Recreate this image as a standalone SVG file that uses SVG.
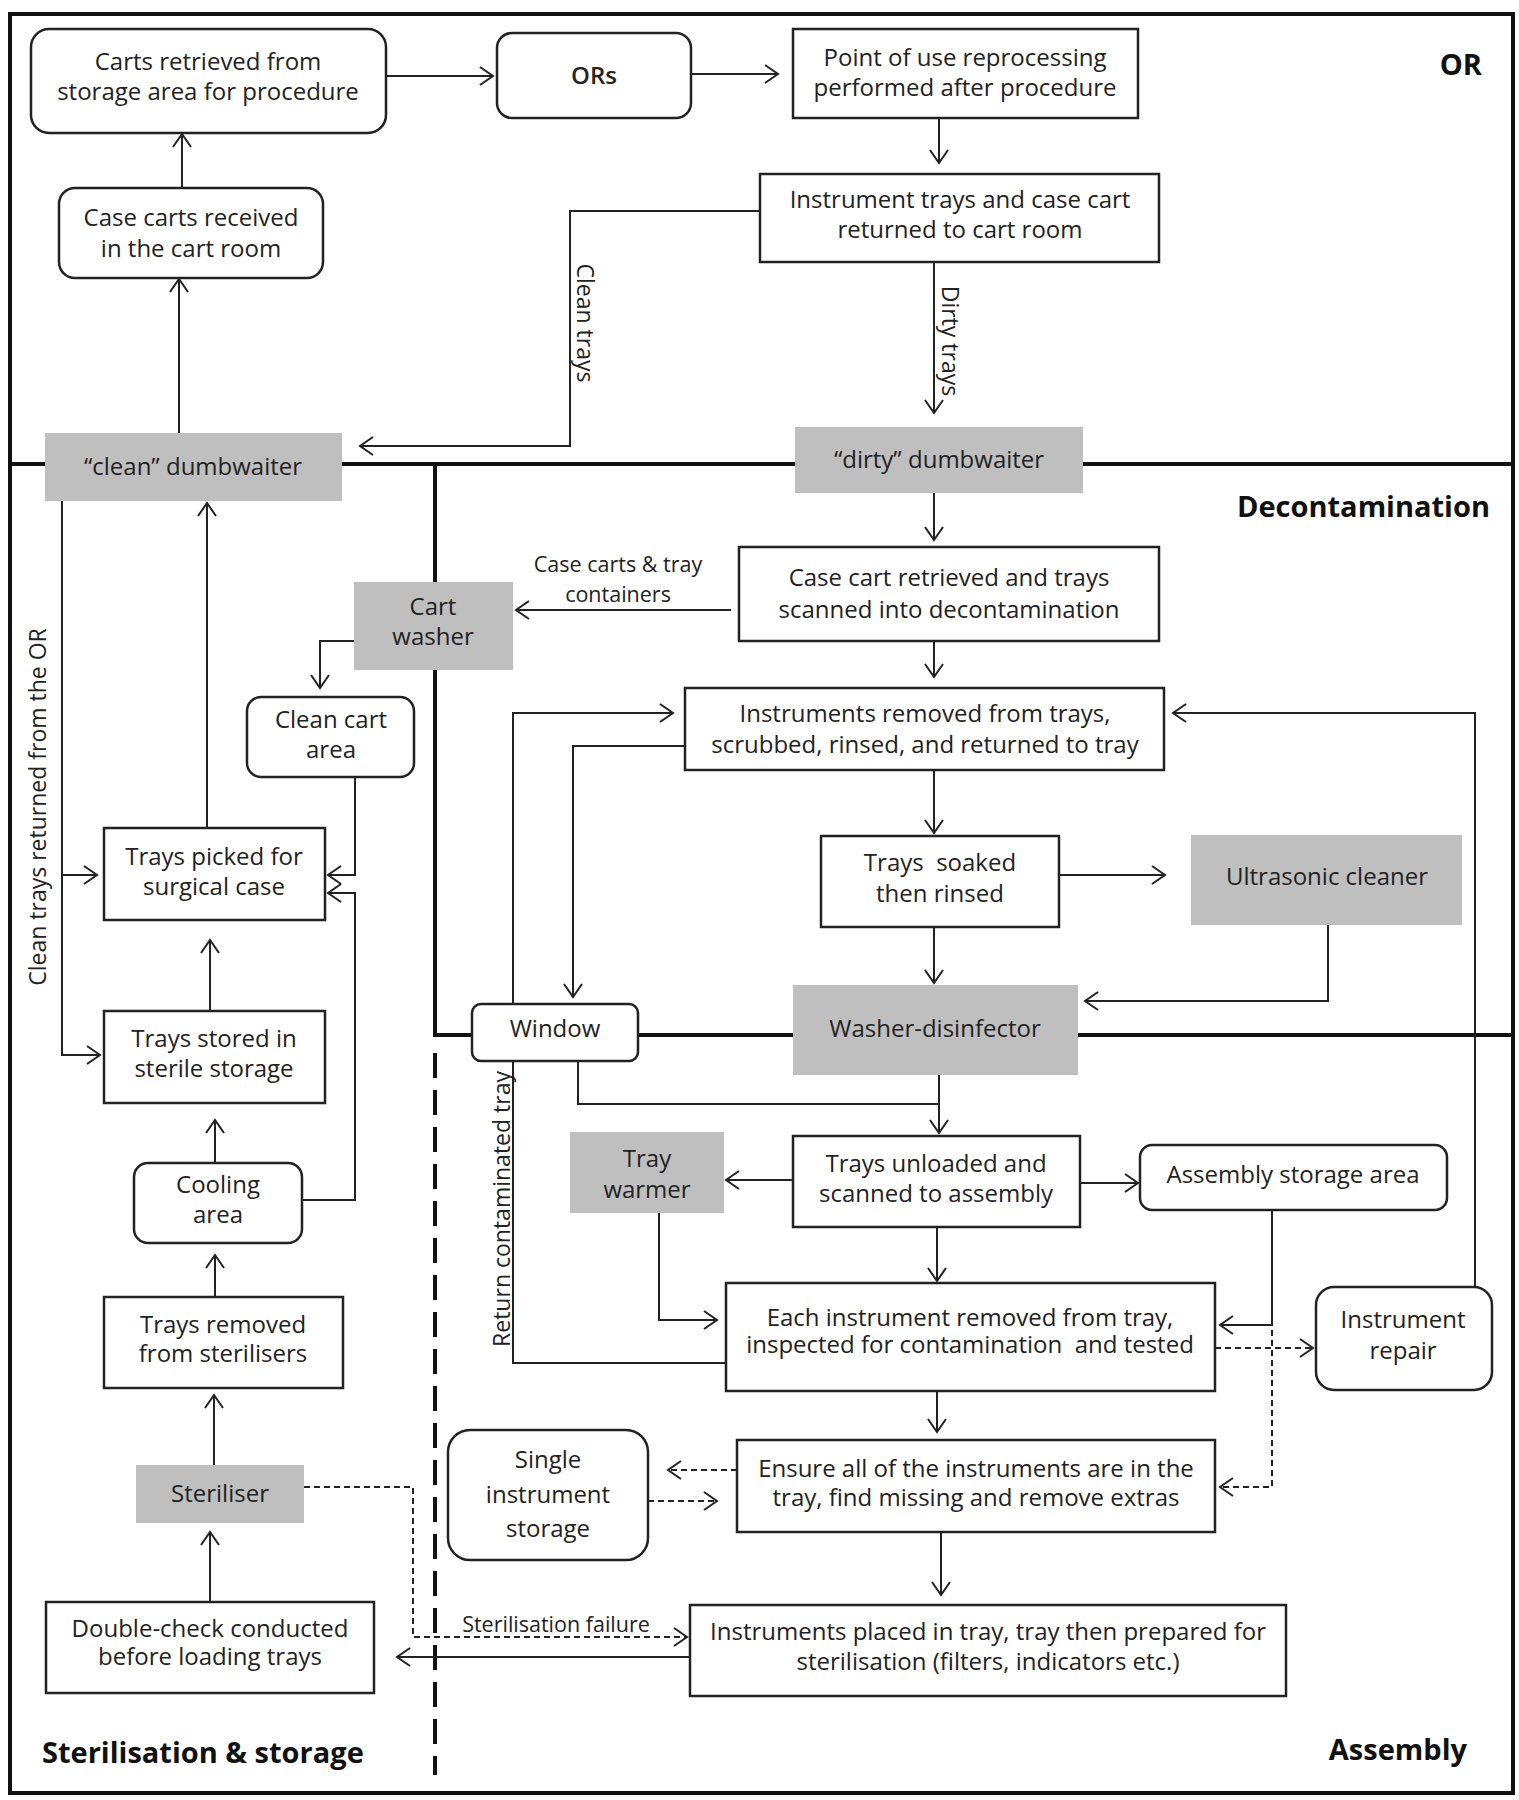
<svg xmlns="http://www.w3.org/2000/svg" width="1519" height="1800" viewBox="0 0 1519 1800">
<style>
.bx{fill:#fff;stroke:#222;stroke-width:2.5}
.gr{fill:#bfbfbf;stroke:none}
.t{font-family:"Open Sans","Noto Sans","DejaVu Sans",sans-serif;font-size:24px;fill:#222;text-anchor:middle}
.s{font-family:"Open Sans","Noto Sans","DejaVu Sans",sans-serif;font-size:21.5px;fill:#222;text-anchor:middle}
.v{font-family:"Open Sans","Noto Sans","DejaVu Sans",sans-serif;font-size:23px;fill:#222;text-anchor:middle}
.h{font-family:"Open Sans","Noto Sans","DejaVu Sans",sans-serif;font-size:29px;font-weight:bold;fill:#111}
.c{fill:none;stroke:#222;stroke-width:2}
.d{stroke-dasharray:6 4}
.r{fill:none;stroke:#111;stroke-width:4}
</style>
<defs>
<marker id="a" viewBox="0 0 16 20" refX="14" refY="10" markerWidth="16" markerHeight="20" markerUnits="userSpaceOnUse" orient="auto"><path d="M1,1 L14,10 L1,19" fill="none" stroke="#222" stroke-width="2"/></marker>
</defs>
<rect width="1519" height="1800" fill="#fff"/>
<g id="regions">
<rect class="r" x="10" y="14" width="1503" height="1779"/>
<path class="r" d="M10,464 H1513"/>
<path class="r" d="M435,464 V1035 H1513"/>
<path class="r" d="M435,1053 V1775" stroke-dasharray="25 12"/>
<text class="h" x="1482" y="75" text-anchor="end">OR</text>
<text class="h" x="1490" y="517" text-anchor="end">Decontamination</text>
<text class="h" x="42" y="1763">Sterilisation &amp; storage</text>
<text class="h" x="1467" y="1760" text-anchor="end">Assembly</text>
</g>
<g id="connectors">
<path class="c" marker-end="url(#a)" d="M386,76 H493"/>
<path class="c" marker-end="url(#a)" d="M691,74 H778"/>
<path class="c" marker-end="url(#a)" d="M939,118 V163"/>
<path class="c" marker-end="url(#a)" d="M760,211 H570 V446 H360"/>
<text class="v" transform="translate(585,323) rotate(90)" y="8">Clean trays</text>
<path class="c" marker-end="url(#a)" d="M934,262 V413"/>
<text class="v" transform="translate(950,341) rotate(90)" y="8">Dirty trays</text>
<path class="c" marker-end="url(#a)" d="M179,433 V279"/>
<path class="c" marker-end="url(#a)" d="M182,188 V134"/>
<path class="c" marker-end="url(#a)" d="M934,493 V540"/>
<path class="c" marker-end="url(#a)" d="M731,610 H516"/>
<text class="s" x="618" y="572">Case carts &amp; tray</text>
<text class="s" x="618" y="602">containers</text>
<path class="c" marker-end="url(#a)" d="M934,641 V677"/>
<path class="c" marker-end="url(#a)" d="M685,746 H573 V997"/>
<path class="c" marker-end="url(#a)" d="M726,1363 H513 V713 H673"/>
<text class="v" transform="translate(502,1209) rotate(-90)" y="8">Return contaminated tray</text>
<path class="c" marker-end="url(#a)" d="M934,770 V833"/>
<path class="c" marker-end="url(#a)" d="M1059,875 H1165"/>
<path class="c" marker-end="url(#a)" d="M1328,925 V1001 H1085"/>
<path class="c" marker-end="url(#a)" d="M934,927 V983"/>
<path class="c" marker-end="url(#a)" d="M939,1075 V1133"/>
<path class="c" d="M578,1061 V1104 H939"/>
<path class="c" marker-end="url(#a)" d="M793,1180 H726"/>
<path class="c" marker-end="url(#a)" d="M659,1213 V1320 H717"/>
<path class="c" marker-end="url(#a)" d="M937,1227 V1281"/>
<path class="c" marker-end="url(#a)" d="M1080,1183 H1138"/>
<path class="c" marker-end="url(#a)" d="M1272,1210 V1325 H1220"/>
<path class="c d" marker-end="url(#a)" d="M1215,1348 H1313"/>
<path class="c d" marker-end="url(#a)" d="M1272,1330 V1487 H1220"/>
<path class="c" marker-end="url(#a)" d="M1475,1287 V713 H1173"/>
<path class="c" marker-end="url(#a)" d="M937,1391 V1432"/>
<path class="c d" marker-end="url(#a)" d="M737,1470 H668"/>
<path class="c d" marker-end="url(#a)" d="M648,1501 H717"/>
<path class="c" marker-end="url(#a)" d="M941,1532 V1595"/>
<path class="c" marker-end="url(#a)" d="M690,1657 H397"/>
<path class="c d" marker-end="url(#a)" d="M304,1487 H413 V1637 H687"/>
<text class="s" x="556" y="1632">Sterilisation failure</text>
<path class="c" marker-end="url(#a)" d="M210,1602 V1532"/>
<path class="c" marker-end="url(#a)" d="M214,1465 V1395"/>
<path class="c" marker-end="url(#a)" d="M215,1297 V1255"/>
<path class="c" marker-end="url(#a)" d="M215,1163 V1120"/>
<path class="c" marker-end="url(#a)" d="M210,1011 V940"/>
<path class="c" marker-end="url(#a)" d="M302,1200 H355 V893 H328"/>
<path class="c" marker-end="url(#a)" d="M355,777 V875 H328"/>
<path class="c" marker-end="url(#a)" d="M207,828 V503"/>
<path class="c" marker-end="url(#a)" d="M62,501 V1055 H100"/>
<path class="c" marker-end="url(#a)" d="M62,875 H97"/>
<text class="v" transform="translate(38,807) rotate(-90)" y="8">Clean trays returned from the OR</text>
<path class="c" marker-end="url(#a)" d="M354,641 H320 V688"/>
</g>
<g id="n-carts-retrieved"><rect class="bx" x="31" y="29" width="355" height="104" rx="18"/><text class="t" x="208" y="70">Carts retrieved from</text><text class="t" x="208" y="100">storage area for procedure</text></g>
<g id="n-ors"><rect class="bx" x="497" y="33" width="194" height="85" rx="15"/><text class="t" x="594" y="84" font-weight="600">ORs</text></g>
<g id="n-point-of-use"><rect class="bx" x="793" y="29" width="345" height="89"/><text class="t" x="965" y="66">Point of use reprocessing</text><text class="t" x="965" y="96">performed after procedure</text></g>
<g id="n-instrument-trays"><rect class="bx" x="760" y="174" width="399" height="88"/><text class="t" x="960" y="208">Instrument trays and case cart</text><text class="t" x="960" y="238">returned to cart room</text></g>
<g id="n-case-carts-received"><rect class="bx" x="59" y="188" width="264" height="90" rx="16"/><text class="t" x="191" y="226">Case carts received</text><text class="t" x="191" y="257">in the cart room</text></g>
<g id="n-clean-dumbwaiter"><rect class="gr" x="45" y="433" width="297" height="68"/><text class="t" x="193" y="475">“clean” dumbwaiter</text></g>
<g id="n-dirty-dumbwaiter"><rect class="gr" x="795" y="427" width="288" height="66"/><text class="t" x="939" y="468">“dirty” dumbwaiter</text></g>
<g id="n-case-cart-retrieved"><rect class="bx" x="739" y="547" width="420" height="94"/><text class="t" x="949" y="586">Case cart retrieved and trays</text><text class="t" x="949" y="618">scanned into decontamination</text></g>
<g id="n-cart-washer"><rect class="gr" x="354" y="582" width="159" height="88"/><text class="t" x="433" y="615">Cart</text><text class="t" x="433" y="645">washer</text></g>
<g id="n-clean-cart-area"><rect class="bx" x="247" y="697" width="167" height="80" rx="14"/><text class="t" x="331" y="728">Clean cart</text><text class="t" x="331" y="758">area</text></g>
<g id="n-instruments-removed"><rect class="bx" x="685" y="688" width="479" height="82"/><text class="t" x="925" y="722">Instruments removed from trays,</text><text class="t" x="925" y="753">scrubbed, rinsed, and returned to tray</text></g>
<g id="n-trays-soaked"><rect class="bx" x="821" y="836" width="238" height="91"/><text class="t" x="940" y="871" xml:space="preserve">Trays  soaked</text><text class="t" x="940" y="902">then rinsed</text></g>
<g id="n-ultrasonic"><rect class="gr" x="1191" y="835" width="271" height="90"/><text class="t" x="1327" y="885">Ultrasonic cleaner</text></g>
<g id="n-trays-picked"><rect class="bx" x="104" y="828" width="221" height="92"/><text class="t" x="214" y="865">Trays picked for</text><text class="t" x="214" y="895">surgical case</text></g>
<g id="n-window"><rect class="bx" x="472" y="1004" width="166" height="57" rx="9"/><text class="t" x="555" y="1037">Window</text></g>
<g id="n-washer-disinfector"><rect class="gr" x="793" y="985" width="285" height="90"/><text class="t" x="935" y="1037">Washer-disinfector</text></g>
<g id="n-trays-stored"><rect class="bx" x="104" y="1011" width="221" height="92"/><text class="t" x="214" y="1047">Trays stored in</text><text class="t" x="214" y="1077">sterile storage</text></g>
<g id="n-tray-warmer"><rect class="gr" x="570" y="1132" width="154" height="81"/><text class="t" x="647" y="1167">Tray</text><text class="t" x="647" y="1198">warmer</text></g>
<g id="n-trays-unloaded"><rect class="bx" x="793" y="1136" width="287" height="91"/><text class="t" x="936" y="1172">Trays unloaded and</text><text class="t" x="936" y="1202">scanned to assembly</text></g>
<g id="n-assembly-storage"><rect class="bx" x="1140" y="1145" width="307" height="65" rx="12"/><text class="t" x="1293" y="1183">Assembly storage area</text></g>
<g id="n-cooling"><rect class="bx" x="134" y="1163" width="168" height="80" rx="14"/><text class="t" x="218" y="1193">Cooling</text><text class="t" x="218" y="1223">area</text></g>
<g id="n-each-instrument"><rect class="bx" x="726" y="1283" width="489" height="108"/><text class="t" x="970" y="1326">Each instrument removed from tray,</text><text class="t" x="970" y="1353" xml:space="preserve">inspected for contamination  and tested</text></g>
<g id="n-instrument-repair"><rect class="bx" x="1316" y="1287" width="176" height="103" rx="18"/><text class="t" x="1403" y="1328">Instrument</text><text class="t" x="1403" y="1359">repair</text></g>
<g id="n-trays-removed"><rect class="bx" x="104" y="1297" width="239" height="91"/><text class="t" x="223" y="1333">Trays removed</text><text class="t" x="223" y="1362">from sterilisers</text></g>
<g id="n-single-instrument"><rect class="bx" x="448" y="1430" width="200" height="130" rx="22"/><text class="t" x="548" y="1468">Single</text><text class="t" x="548" y="1503">instrument</text><text class="t" x="548" y="1537">storage</text></g>
<g id="n-ensure"><rect class="bx" x="737" y="1440" width="478" height="92"/><text class="t" x="976" y="1477">Ensure all of the instruments are in the</text><text class="t" x="976" y="1506">tray, find missing and remove extras</text></g>
<g id="n-steriliser"><rect class="gr" x="136" y="1465" width="168" height="58"/><text class="t" x="220" y="1502">Steriliser</text></g>
<g id="n-double-check"><rect class="bx" x="46" y="1602" width="328" height="91"/><text class="t" x="210" y="1637">Double-check conducted</text><text class="t" x="210" y="1665">before loading trays</text></g>
<g id="n-instruments-placed"><rect class="bx" x="690" y="1605" width="596" height="91"/><text class="t" x="988" y="1640">Instruments placed in tray, tray then prepared for</text><text class="t" x="988" y="1670">sterilisation (filters, indicators etc.)</text></g>
</svg>
